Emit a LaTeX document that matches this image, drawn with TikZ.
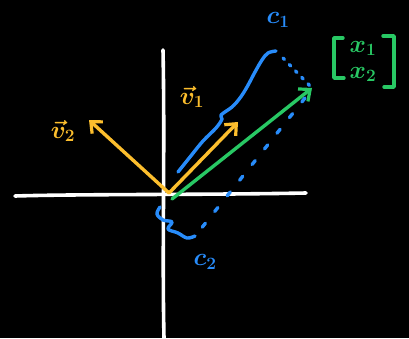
\documentclass[tikz,border=0pt]{standalone}
\usepackage{amsmath,amssymb}
\usetikzlibrary{arrows.meta,positioning,calc}
\definecolor{vecyel}{RGB}{252,190,45}
\definecolor{coefblue}{RGB}{40,140,250}
\definecolor{sumgreen}{RGB}{40,200,100}
\tikzset{
  axisln/.style={line width=3.6pt, white, line cap=round},
  vecln/.style={-{Straight Barb[length=3.2mm,width=5.6mm,line width=3.2pt]}, line width=3.4pt, line cap=round, line join=round},
  handln/.style={line width=3.4pt, line cap=round, line join=round},
  dashln/.style={line width=3.4pt, line cap=round, dash pattern=on 5pt off 15pt},
  dotln/.style={line width=3.4pt, line cap=round, dash pattern=on 2pt off 7pt},
  lbl/.style={font=\fontsize{27}{30}\selectfont\boldmath, inner sep=0pt},
}

\begin{document}
\begin{tikzpicture}[x=1pt,y=-1pt]
  \fill[black] (0,0) rectangle (409,338);
  \useasboundingbox (0,0) rectangle (409,338);
  % axes
  \coordinate (xl) at (15,196); \coordinate (xr) at (306,193);
  \coordinate (yt) at (163,50); \coordinate (yb) at (164,338);
  \draw[axisln] (xl) .. controls (80,194) and (200,195) .. (xr);
  \draw[axisln] (yt) .. controls (165,150) and (162,250) .. (yb);
  % basis vectors
  \coordinate (O) at (169,193);
  \coordinate (v1) at (238,122);
  \coordinate (v2) at (89,120);
  \draw[vecln, vecyel] (O) -- (v1);
  \draw[vecln, vecyel] (O) -- (v2);
  \node[lbl, vecyel] (v1lbl) at (192,97) {$\vec{v}_1$};
  \node[lbl, vecyel] (v2lbl) at (63,131) {$\vec{v}_2$};
  % target vector x
  \coordinate (Og) at (172,199);
  \coordinate (xt) at (312,88);
  \draw[vecln, sumgreen] (Og) -- (xt);
  \node[lbl, sumgreen, font=\fontsize{25}{26}\selectfont\boldmath] (xvec) at (363,60) {$\begin{matrix} x_1\\ x_2 \end{matrix}$};
  \draw[handln, sumgreen] (343,38) -- (334,38) -- (334,78) -- (344,78);
  \draw[handln, sumgreen] (383,36) -- (394,36) -- (394,87) -- (384,87);
  % c1 along v1
  \coordinate (c1a) at (178,172);
  \coordinate (c1b) at (276,51);
  \draw[handln, coefblue] plot[smooth, tension=0.6] coordinates {(c1a) (190,157) (203,141) (216,128) (222,119) (221,115) (232,107) (240,98) (247,87) (255,72) (262,60) (268,53) (c1b)};
  \coordinate (d1a) at (283,58);
  \draw[dotln, coefblue] (d1a) -- (xt);
  \node[lbl, coefblue] (c1lbl) at (278,20) {$c_1$};
  % c2 along v2
  \coordinate (d2a) at (305,98);
  \coordinate (d2b) at (200,230);
  \draw[dashln, coefblue] (d2a) -- (d2b);
  \coordinate (c2a) at (160,207);
  \coordinate (c2b) at (195,236);
  \draw[handln, coefblue] plot[smooth, tension=0.6] coordinates {(c2a) (157,214) (163,220) (172,222) (168,229) (178,233) (187,238) (c2b)};
  \node[lbl, coefblue] (c2lbl) at (205,262) {$c_2$};
\end{tikzpicture}
\end{document}
